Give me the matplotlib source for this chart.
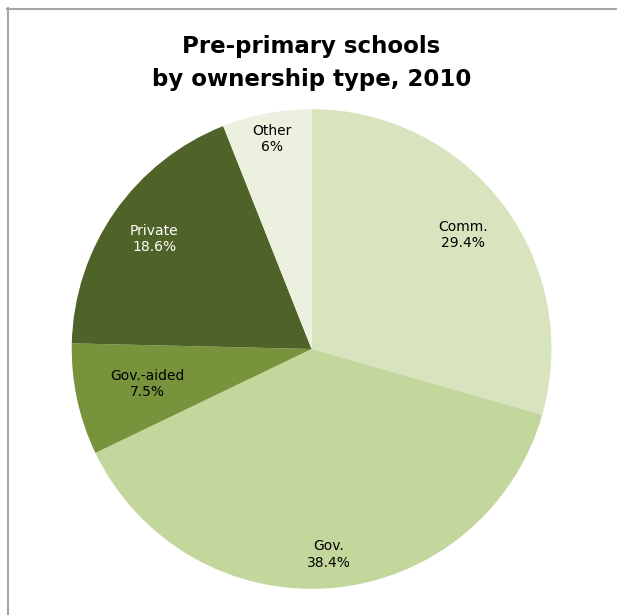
import numpy as np
import matplotlib.pyplot as plt
from matplotlib.lines import Line2D

# Pre-primary schools by ownership type, 2010 (share of schools, %)
categories = ["Comm.", "Gov.", "Gov.-aided", "Private", "Other"]
shares = [29.4, 38.4, 7.5, 18.6, 6]
share_text = ["29.4%", "38.4%", "7.5%", "18.6%", "6%"]

colors = ["#D7E4BD", "#C3D69B", "#77933C", "#4F6228", "#EBF1DE"]
text_colors = ["black", "black", "black", "white", "black"]
label_r = [0.79, 0.86, 0.70, 0.80, 0.89]

fig = plt.figure(figsize=(6.17, 6.15), dpi=100)
fig.patch.set_facecolor("white")

# thin grey chart-area frame (top and left edges only visible)
fig.add_artist(Line2D([7 / 617, 1.0], [1 - 8.5 / 615, 1 - 8.5 / 615],
                      color="#A6A6A6", lw=1.5, transform=fig.transFigure))
fig.add_artist(Line2D([7.5 / 617, 7.5 / 617], [0, 1 - 8 / 615],
                      color="#A6A6A6", lw=1.5, transform=fig.transFigure))

ax = fig.add_axes([0.116, 0.0425, 0.778, 0.780])
wedges, _ = ax.pie(shares, colors=colors, startangle=90, counterclock=False,
                   wedgeprops=dict(linewidth=0))
ax.set_xlim(-1, 1)
ax.set_ylim(-1, 1)
ax.set_aspect("equal")
ax.axis("off")

for w, name, txt, tc, r in zip(wedges, categories, share_text, text_colors, label_r):
    mid = np.deg2rad((w.theta1 + w.theta2) / 2)
    ax.text(r * np.cos(mid), r * np.sin(mid), f"{name}\n{txt}",
            ha="center", va="center", fontsize=10, color=tc, linespacing=1.2)

fig.text(0.505, 0.898, "Pre-primary schools\nby ownership type, 2010",
         ha="center", va="center", fontsize=16.5, fontweight="bold",
         linespacing=1.55)

fig.savefig("out.png", dpi=100)
